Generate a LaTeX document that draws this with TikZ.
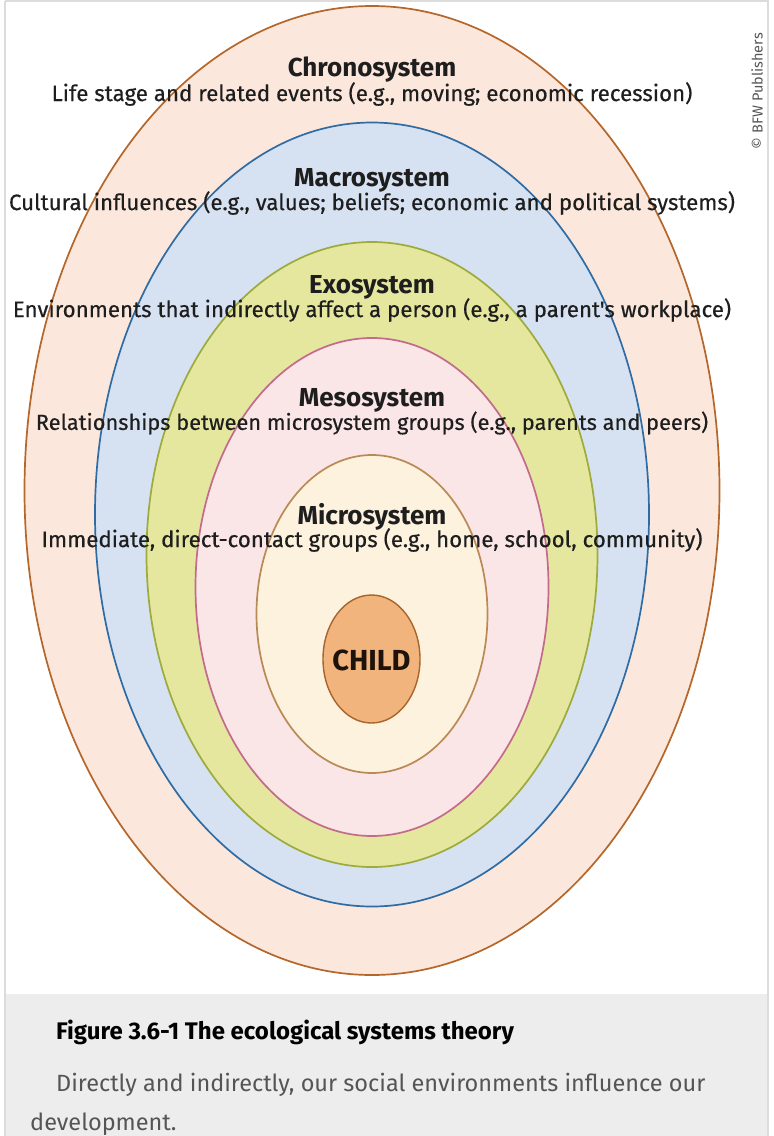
\documentclass[tikz,border=0pt]{standalone}
\usepackage{fontspec}
\setmainfont{Fira Sans}
\newfontfamily\notefont[FakeBold=0.4]{Fira Sans}
\usetikzlibrary{positioning}

\definecolor{chronoline}{HTML}{B5662A}
\definecolor{chronofill}{HTML}{FBE7DC}
\definecolor{macroline}{HTML}{2F6CA3}
\definecolor{macrofill}{HTML}{D6E2F2}
\definecolor{exoline}{HTML}{9CAB3C}
\definecolor{exofill}{HTML}{E5E79F}
\definecolor{mesoline}{HTML}{C26B8C}
\definecolor{mesofill}{HTML}{FAE5E7}
\definecolor{microline}{HTML}{B98A55}
\definecolor{microfill}{HTML}{FDF2DE}
\definecolor{childline}{HTML}{A8642C}
\definecolor{childfill}{HTML}{F1B47D}
\definecolor{captionbg}{HTML}{EDEDED}
\definecolor{framegray}{HTML}{DCDCDC}
\definecolor{inktext}{HTML}{1E1E1E}
\definecolor{softtext}{HTML}{555555}

\tikzset{
  systitle/.style={font=\fontsize{26}{28}\selectfont\bfseries, text=inktext, inner sep=0pt},
  sysnote/.style={font=\notefont\fontsize{22.3}{24}\selectfont, text=inktext, inner sep=0pt},
  capline/.style={font=\fontsize{23.5}{26}\selectfont, text=softtext, inner sep=0pt, anchor=base west}
}

\begin{document}
\begin{tikzpicture}[x=1pt, y=-1pt]
	\useasboundingbox (0,0) rectangle (774,1136);
	\fill[white] (0,0) rectangle (774,1136);
	\fill[captionbg] (6,994) rectangle (767,1136);
	\draw[framegray, line width=2.5pt] (5,1) -- (768,1) -- (768,1136);
	\draw[framegray, line width=2.5pt] (5,1) -- (5,1136);
	
	% nested systems, outside in
	\foreach \cy/\rx/\ry/\sys in {490.5/347.5/484.5/chrono, 514.5/277/392/macro, 554.5/225.5/312.5/exo, 587/176.5/249/meso, 614/115.5/159/micro}
	\draw[\sys line, fill=\sys fill, line width=1.7pt] (372,\cy) ellipse (\rx pt and \ry pt);
	
	\draw[childline, fill=childfill, line width=1.4pt] (371.5,659) ellipse (48.5pt and 64pt);
	\node[font=\fontsize{29}{30}\selectfont\bfseries, text=black!85!brown] (child) at (371.5,660) {CHILD};
	
	\node[systitle] (chrono) at (372,70) {Chronosystem};
	\node[sysnote] (chronotxt) at (372,94) {Life stage and related events (e.g., moving; economic recession)};
	\node[systitle] (macro) at (372,180) {Macrosystem};
	\node[sysnote] (macrotxt) at (372,203) {Cultural influences (e.g., values; beliefs; economic and political systems)};
	\node[systitle] (exo) at (372,287) {Exosystem};
	\node[sysnote] (exotxt) at (372,310) {Environments that indirectly affect a person (e.g., a parent's workplace)};
	\node[systitle] (meso) at (372,400) {Mesosystem};
	\node[sysnote, font=\notefont\fontsize{21.8}{24}\selectfont] (mesotxt) at (372,423) {Relationships between microsystem groups (e.g., parents and peers)};
	\node[systitle] (micro) at (372,517) {Microsystem};
	\node[sysnote] (microtxt) at (372,540) {Immediate, direct-contact groups (e.g., home, school, community)};
	
	\node[rotate=90, font=\fontsize{14.5}{16}\selectfont, text=softtext, inner sep=0pt] (credit) at (757,91) {\textcopyright\ BFW Publishers};
	
	\node[capline, text=black, font=\fontsize{24}{26}\selectfont\bfseries] (figtitle) at (56,1039) {Figure 3.6-1 The ecological systems theory};
	\node[capline] (figtext) at (56,1091) {Directly and indirectly, our social environments influence our};
	\node[capline] (figtext2) at (30,1130) {development.};
\end{tikzpicture}
\end{document}
